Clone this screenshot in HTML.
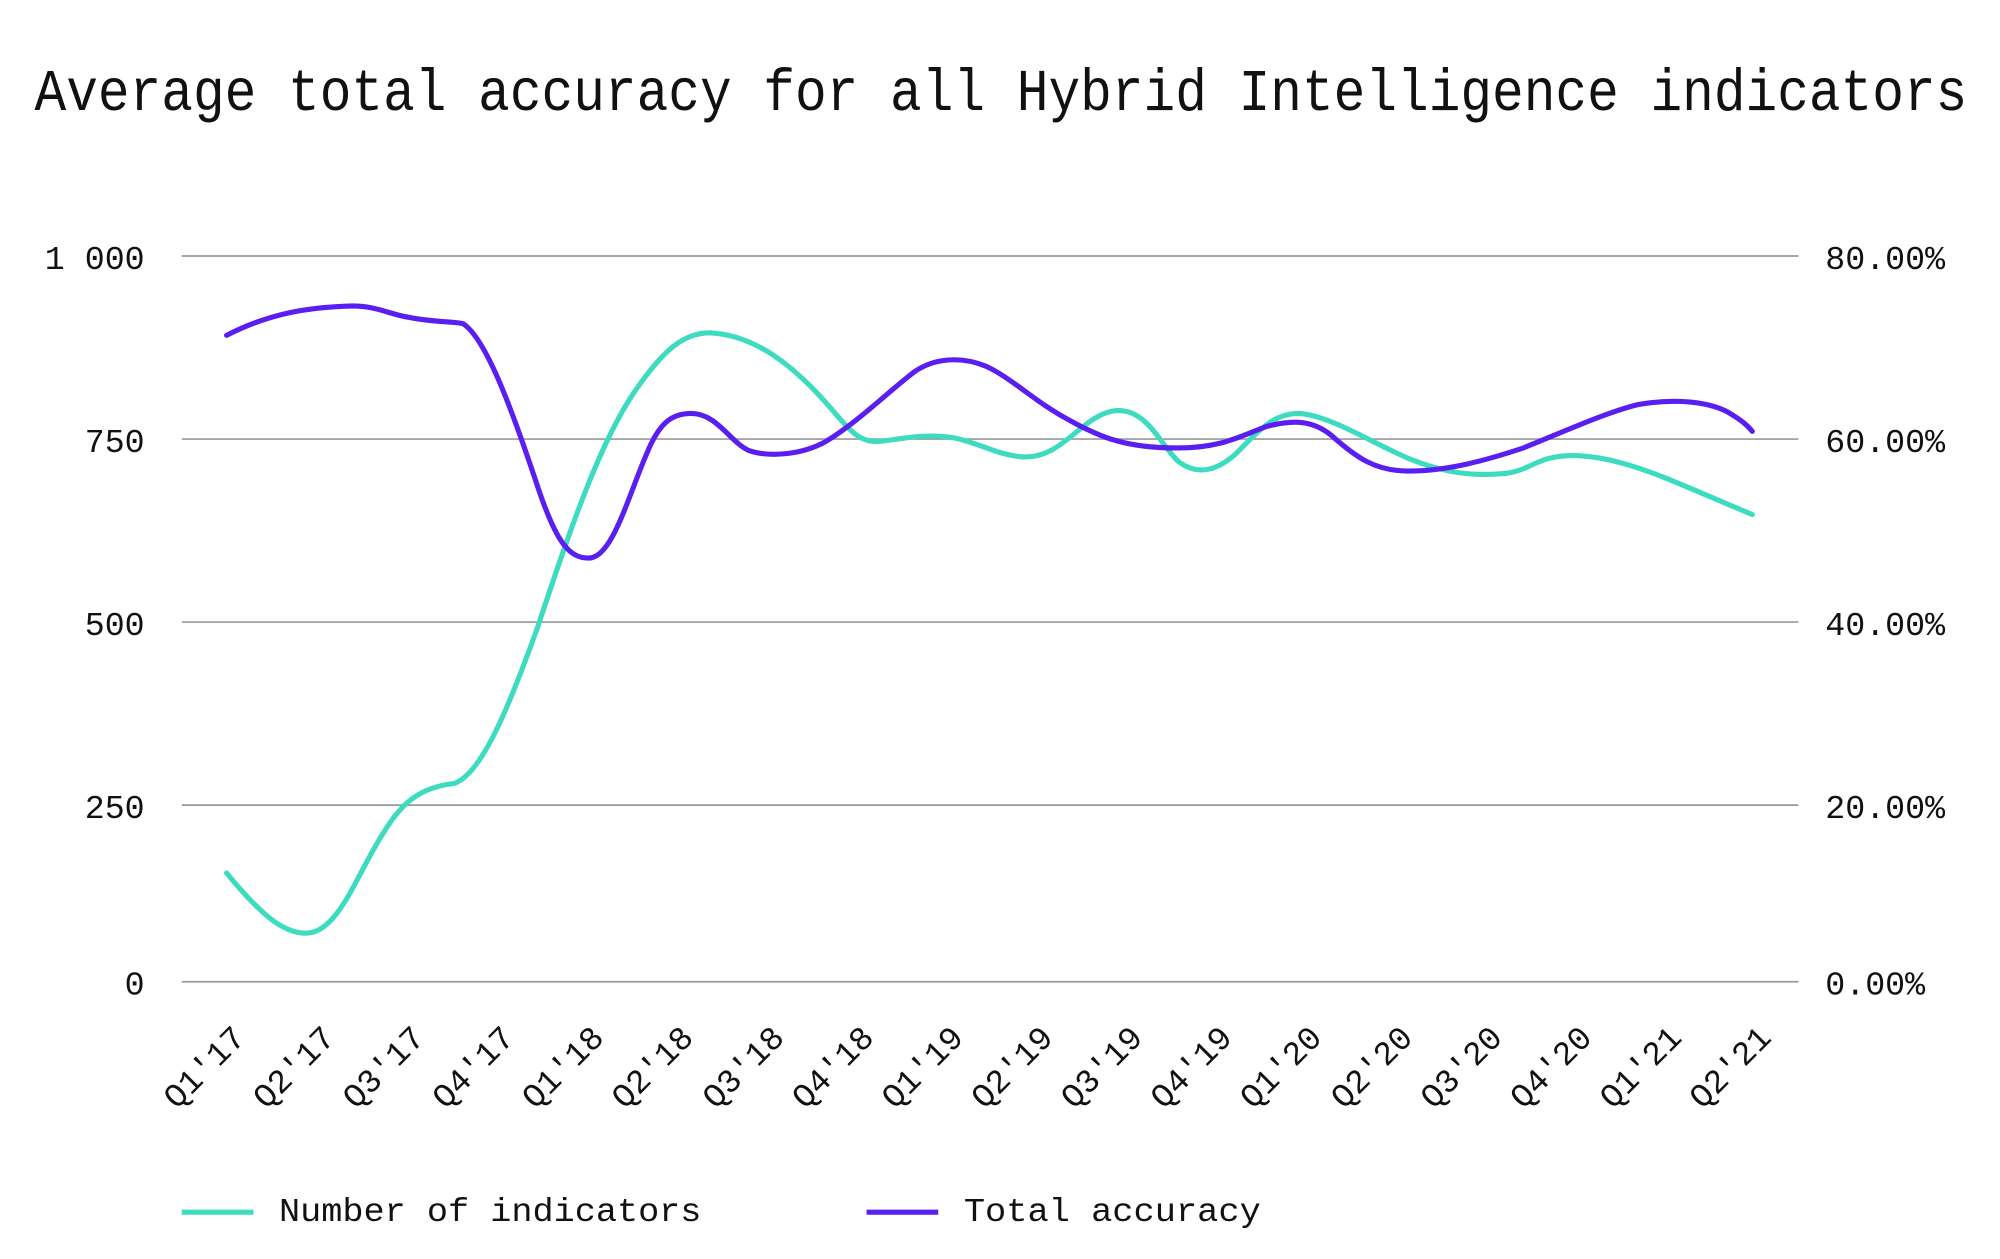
<!DOCTYPE html>
<html><head><meta charset="utf-8"><style>
html,body{margin:0;padding:0;background:#fff;}
svg{display:block;}
text{font-family:"Liberation Mono",monospace;fill:#111;}
</style></head><body>
<svg width="2000" height="1259" viewBox="0 0 1562.5 983.6" xmlns="http://www.w3.org/2000/svg">
<rect width="1562.5" height="983.6" fill="#fff"/>
<text x="27" y="86" font-size="46.5" textLength="1510" lengthAdjust="spacingAndGlyphs">Average total accuracy for all Hybrid Intelligence indicators</text>
<g stroke="#999" stroke-width="1.3">
<line x1="142" y1="200" x2="1405" y2="200"/>
<line x1="142" y1="343" x2="1405" y2="343"/>
<line x1="142" y1="486" x2="1405" y2="486"/>
<line x1="142" y1="629" x2="1405" y2="629"/>
<line x1="142" y1="767" x2="1405" y2="767"/>
</g>
<g font-size="26" text-anchor="end">
<text x="113" y="210">1 000</text>
<text x="113" y="353">750</text>
<text x="113" y="496">500</text>
<text x="113" y="639">250</text>
<text x="113" y="777">0</text>
</g>
<g font-size="26">
<text x="1426" y="210">80.00%</text>
<text x="1426" y="353">60.00%</text>
<text x="1426" y="496">40.00%</text>
<text x="1426" y="639">20.00%</text>
<text x="1426" y="777">0.00%</text>
</g>
<g font-size="26" text-anchor="end">
<text transform="translate(193,812) rotate(-45)">Q1'17</text>
<text transform="translate(263,812) rotate(-45)">Q2'17</text>
<text transform="translate(333,812) rotate(-45)">Q3'17</text>
<text transform="translate(403,812) rotate(-45)">Q4'17</text>
<text transform="translate(473,812) rotate(-45)">Q1'18</text>
<text transform="translate(543,812) rotate(-45)">Q2'18</text>
<text transform="translate(614,812) rotate(-45)">Q3'18</text>
<text transform="translate(684,812) rotate(-45)">Q4'18</text>
<text transform="translate(754,812) rotate(-45)">Q1'19</text>
<text transform="translate(824,812) rotate(-45)">Q2'19</text>
<text transform="translate(894,812) rotate(-45)">Q3'19</text>
<text transform="translate(964,812) rotate(-45)">Q4'19</text>
<text transform="translate(1034,812) rotate(-45)">Q1'20</text>
<text transform="translate(1105,812) rotate(-45)">Q2'20</text>
<text transform="translate(1175,812) rotate(-45)">Q3'20</text>
<text transform="translate(1245,812) rotate(-45)">Q4'20</text>
<text transform="translate(1315,812) rotate(-45)">Q1'21</text>
<text transform="translate(1385,812) rotate(-45)">Q2'21</text>
</g>
<path fill="none" stroke="#3ddbc0" stroke-width="4" stroke-linecap="round" d="M177,682 C200,710 220,730 240,729 C265,728 280,680 300,650 C315,625 330,615 355,612 C375,605 395,560 420,490 C445,415 470,340 500,300 C520,272 535,260 555,260 C590,262 620,285 650,320 C665,338 672,345 685,345 C700,344 720,338 745,342 C765,346 780,356 800,357 C830,358 845,325 870,321 C895,318 905,345 920,360 C935,372 950,368 965,355 C985,335 995,323 1015,323 C1040,325 1070,345 1100,358 C1130,370 1150,372 1175,370 C1195,368 1200,357 1225,356 C1250,355 1280,365 1300,373 C1320,381 1345,392 1369,402"/>
<path fill="none" stroke="#5a1ff0" stroke-width="4" stroke-linecap="round" d="M177,262 C210,245 240,240 275,239 C295,239 305,246 320,248 C340,252 355,251 362,253 C380,265 400,320 420,380 C435,425 445,436 460,436 C478,436 490,390 505,355 C515,330 525,323 540,323 C560,323 570,345 585,352 C600,357 625,356 645,345 C670,330 695,305 715,290 C730,280 750,278 770,286 C790,295 810,315 835,328 C860,342 880,350 920,350 C955,350 970,340 990,333 C1010,328 1025,328 1040,340 C1060,358 1075,368 1100,368 C1130,368 1160,360 1190,350 C1220,338 1255,322 1280,316 C1310,311 1335,314 1350,322 C1360,328 1365,332 1369,337"/>
<line x1="142" y1="947" x2="198" y2="947" stroke="#3ddbc0" stroke-width="4"/>
<text x="218" y="954" font-size="26" textLength="330" lengthAdjust="spacingAndGlyphs">Number of indicators</text>
<line x1="677" y1="947" x2="733" y2="947" stroke="#5a1ff0" stroke-width="4"/>
<text x="753" y="954" font-size="26" textLength="232" lengthAdjust="spacingAndGlyphs">Total accuracy</text>
</svg>
</body></html>
